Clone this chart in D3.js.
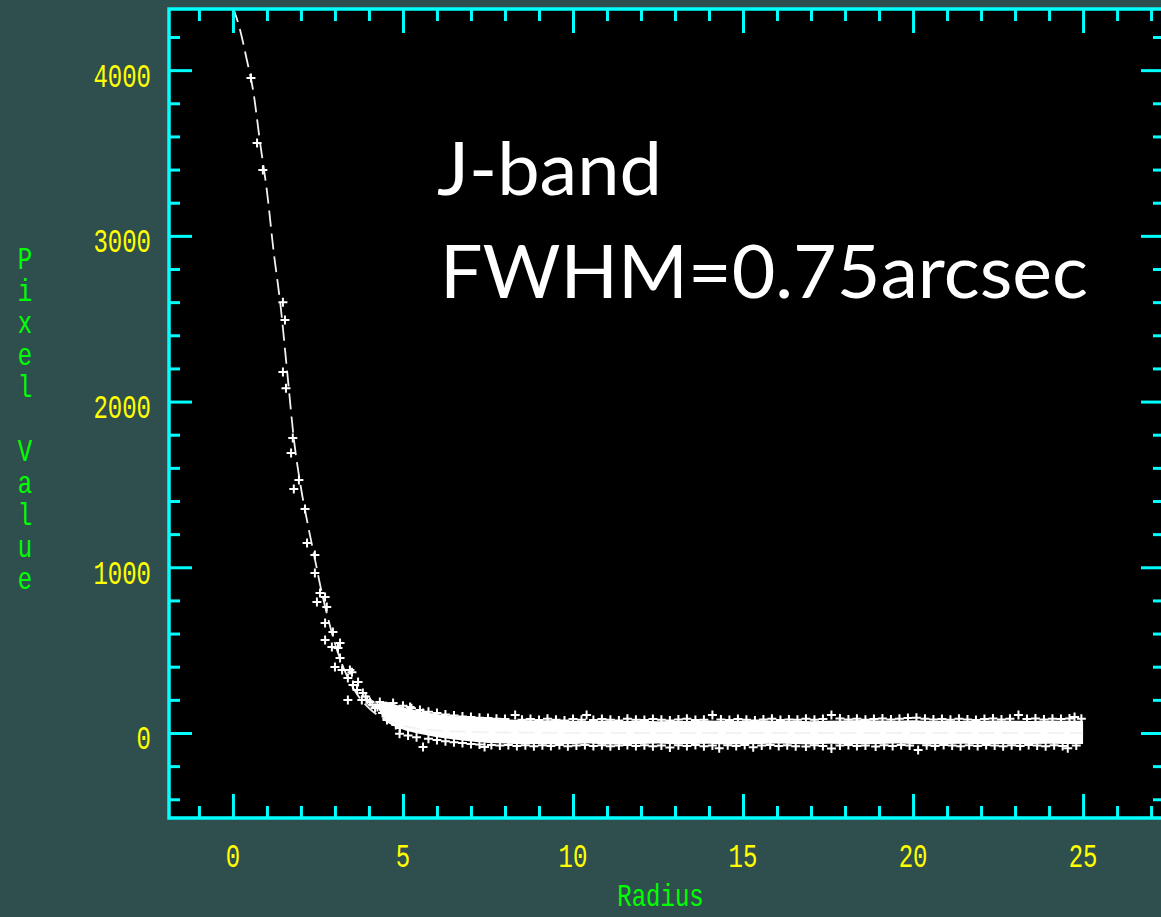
<!DOCTYPE html>
<html>
<head>
<meta charset="utf-8">
<script src="https://cdn.jsdelivr.net/npm/d3@7/dist/d3.min.js"></script>
<style>
  html, body { margin: 0; padding: 0; background: #2f4f4f; overflow: hidden; }
  svg { display: block; }
</style>
</head>
<body>
<svg id="chart" width="1161" height="917"></svg>
<script>
// Radial profile of a stellar image: pixel value versus radius (pixels)

// Axis ranges and tick labels
const xRange = [-1.88, 27.38];
const yRange = [-513, 4369];
const xTickLabels = [0, 5, 10, 15, 20, 25];
const yTickLabels = [0, 1000, 2000, 3000, 4000];

// Fitted profile (dashed curve)
const fitR = [0, 0.2, 0.4, 0.6, 0.8, 1.0, 1.2, 1.4, 1.6, 1.8, 2.0, 2.2, 2.4, 2.6, 2.8, 3.0, 3.3, 3.6, 4.0, 4.5, 5, 6, 8, 12, 25];
const fitV = [4380, 4250, 4070, 3870, 3560, 3270, 2900, 2580, 2170, 1760, 1480, 1260, 1060, 860, 690, 540, 370, 250, 150, 80, 45, 15, 3, 0, 0];

// Measured pixels in the core of the star
const coreR = [0.53, 0.71, 0.88, 1.47, 1.53, 1.47, 1.56, 1.76, 1.71, 1.94, 1.79, 2.12, 2.18, 2.41, 2.41, 2.56, 2.71, 2.47, 2.76,
  2.71, 2.94, 2.71, 2.91, 3.15, 3.09, 3.15, 3.0, 3.21, 3.44, 3.38, 3.53, 3.68, 3.65, 3.38, 3.82, 3.79, 4.03, 4.32, 4.18,
  4.62, 4.71, 4.53, 5.21, 4.91, 5.21, 5.59, 3.5, 3.95, 4.25, 4.71, 4.79, 3.9, 4.1, 4.4];
const coreV = [3952, 3560, 3397, 2600, 2492, 2178, 2081, 1780, 1689, 1526, 1472, 1351, 1146, 1074, 965, 845, 821, 790, 760,
  664, 609, 561, 519, 543, 513, 452, 398, 380, 380, 332, 290, 308, 259, 199, 241, 199, 187, 187, 151,
  157, 181, 78, 157, 30, 97, 121, 366, 199, 157, 90, 48, 220, 170, 120];

// Sky background: spread of the pixel values around zero
const bandR = [4.2, 4.5, 4.8, 5.1, 5.4, 5.7, 6.0, 6.5, 7.0, 7.5, 8.0, 8.5, 9.0, 9.5, 10, 10.5, 11, 11.5, 12, 12.5, 13, 13.5, 14,
  14.5, 15, 15.5, 16, 16.5, 17, 17.5, 18, 18.5, 19, 19.5, 20, 20.5, 21, 21.5, 22, 22.5, 23, 23.5, 24, 24.5, 25];
const bandHi = [170, 190, 170, 150, 136, 124, 114, 102, 94, 88, 82, 78, 76, 78, 74, 73, 76, 72, 74, 71, 73, 72, 76,
  72, 74, 77, 72, 74, 71, 74, 76, 78, 76, 74, 77, 73, 75, 72, 74, 76, 74, 72, 75, 74, 74];
const bandLo = [170, 66, 34, 14, -2, -14, -26, -40, -52, -60, -64, -68, -66, -69, -67, -64, -69, -70, -67, -64, -68, -66, -65,
  -70, -68, -66, -64, -67, -69, -65, -67, -68, -66, -64, -67, -69, -67, -65, -68, -66, -68, -67, -65, -66, -66];

// Individual sky pixels along the upper and lower edges of the spread
const edgeR = [5.0, 5.25, 5.5, 5.75, 6.0, 6.25, 6.5, 6.75, 7.0, 7.25, 7.5, 7.75, 8.0, 8.3, 8.5, 8.75, 9.0, 9.25, 9.5, 9.75,
  10.0, 10.25, 10.4, 10.6, 10.85, 11.1, 11.35, 11.6, 11.85, 12.1, 12.35, 12.6, 12.85, 13.1, 13.35, 13.6, 13.85, 14.1, 14.35,
  14.6, 14.85, 15.1, 15.35, 15.6, 15.85, 16.1, 16.35, 16.6, 16.85, 17.1, 17.35, 17.6, 17.85, 18.1, 18.35, 18.6, 18.85, 19.1,
  19.35, 19.6, 19.85, 20.1, 20.35, 20.6, 20.85, 21.1, 21.35, 21.6, 21.85, 22.1, 22.35, 22.6, 22.85, 23.1, 23.35, 23.6, 23.85,
  24.1, 24.35, 24.6, 24.75, 24.95,
  4.9, 5.15, 5.4, 5.59, 5.75, 6.0, 6.25, 6.5, 6.75, 7.0, 7.25, 7.4, 7.6, 7.85, 8.1, 8.35, 8.6, 8.85, 9.1, 9.35, 9.6, 9.85,
  10.1, 10.35, 10.6, 10.85, 11.1, 11.35, 11.6, 11.85, 12.1, 12.35, 12.6, 12.85, 13.1, 13.35, 13.6, 13.85, 14.1, 14.3, 14.55,
  14.8, 15.05, 15.3, 15.55, 15.8, 16.05, 16.3, 16.55, 16.85, 17.1, 17.35, 17.6, 17.85, 18.1, 18.35, 18.6, 18.9, 19.15, 19.4,
  19.65, 19.9, 20.15, 20.4, 20.65, 20.9, 21.15, 21.4, 21.65, 21.9, 22.15, 22.4, 22.65, 22.9, 23.15, 23.4, 23.65, 23.9, 24.15,
  24.4, 24.55, 24.8];
const edgeV = [165, 150, 138, 128, 120, 112, 106, 100, 96, 92, 90, 86, 84, 109, 80, 84, 78, 86, 80, 76,
  84, 80, 109, 78, 84, 80, 76, 86, 80, 78, 84, 80, 76, 82, 86, 78, 80, 109, 82,
  78, 84, 80, 76, 82, 86, 78, 82, 80, 86, 80, 84, 109, 88, 82, 86, 80, 84, 88,
  82, 86, 90, 92, 86, 82, 84, 80, 86, 82, 78, 84, 88, 82, 86, 109, 84, 88, 82,
  86, 84, 88, 97, 86,
  -5, -15, -25, -84, -35, -42, -50, -56, -60, -66, -70, -84, -72, -76, -72, -78, -74, -80, -74, -78, -72, -80,
  -76, -72, -78, -74, -80, -76, -72, -78, -74, -80, -76, -88, -74, -78, -72, -80, -76, -92, -74,
  -78, -72, -86, -76, -72, -78, -74, -80, -82, -74, -78, -94, -76, -72, -78, -76, -82, -74, -78,
  -72, -76, -102, -74, -78, -72, -76, -80, -74, -78, -72, -76, -80, -74, -78, -72, -76, -80, -74,
  -78, -92, -76];

// Layout
const plot = { left: 169, top: 9, right: 1164, bottom: 818 };
const axisColor = "#00ffff";
const labelColor = "#ffff00";
const titleColor = "#00ff00";

const svg = d3.select("#chart");

const x = d3.scaleLinear().domain(xRange).range([plot.left, plot.right]);
const y = d3.scaleLinear().domain(yRange).range([plot.bottom, plot.top]);

// plotting area
svg.append("rect")
  .attr("x", plot.left).attr("y", plot.top)
  .attr("width", plot.right - plot.left).attr("height", plot.bottom - plot.top)
  .attr("fill", "#000");

svg.append("clipPath").attr("id", "plotClip")
  .append("rect")
  .attr("x", plot.left).attr("y", plot.top)
  .attr("width", plot.right - plot.left).attr("height", plot.bottom - plot.top);

const data = svg.append("g").attr("clip-path", "url(#plotClip)");

// sky spread
const band = bandR.map((r, i) => ({ r, hi: bandHi[i], lo: bandLo[i] }));
data.append("path")
  .datum(band)
  .attr("fill", "#fff")
  .attr("d", d3.area().x(d => x(d.r)).y0(d => y(d.lo)).y1(d => y(d.hi)).curve(d3.curveLinear));

// fitted curve
const fit = fitR.map((r, i) => ({ r, v: fitV[i] }));
data.append("path")
  .datum(fit)
  .attr("fill", "none")
  .attr("stroke", "#f2f2f2")
  .attr("stroke-width", 1.8)
  .attr("stroke-dasharray", "16,7")
  .attr("d", d3.line().x(d => x(d.r)).y(d => y(d.v)).curve(d3.curveMonotoneX));

// plus-sign markers
const plusPath = "M-4.5,0H4.5M0,-4.5V4.5";
const pts = coreR.map((r, i) => ({ r, v: coreV[i] }))
  .concat(edgeR.map((r, i) => ({ r, v: edgeV[i] })));
data.append("g").selectAll("path")
  .data(pts)
  .join("path")
  .attr("transform", d => `translate(${x(d.r)},${y(d.v)})`)
  .attr("d", plusPath)
  .attr("stroke", "#fff")
  .attr("stroke-width", 2)
  .attr("fill", "none");

// axes: major and minor ticks on all four sides, pointing inwards
const xMinor = d3.range(-1, 28).filter(v => v % 5 !== 0);
const yMinor = d3.range(-400, 4370, 200).filter(v => v % 1000 !== 0);

function tickAxis(axisFn, scale, values, size, transform) {
  const g = svg.append("g")
    .attr("transform", transform)
    .call(axisFn(scale).tickValues(values).tickSize(size).tickSizeOuter(0).tickFormat(""));
  g.select(".domain").remove();
  g.selectAll(".tick line").attr("stroke", axisColor).attr("stroke-width", 3);
  return g;
}

tickAxis(d3.axisBottom, x, xTickLabels, -24, `translate(0,${plot.bottom})`);
tickAxis(d3.axisBottom, x, xMinor, -12, `translate(0,${plot.bottom})`);
tickAxis(d3.axisTop, x, xTickLabels, -24, `translate(0,${plot.top})`);
tickAxis(d3.axisTop, x, xMinor, -12, `translate(0,${plot.top})`);
tickAxis(d3.axisLeft, y, yTickLabels, -23, `translate(${plot.left},0)`);
tickAxis(d3.axisLeft, y, yMinor, -11, `translate(${plot.left},0)`);
tickAxis(d3.axisRight, y, yTickLabels, -23, `translate(${plot.right},0)`);
tickAxis(d3.axisRight, y, yMinor, -11, `translate(${plot.right},0)`);

// frame
svg.append("rect")
  .attr("x", plot.left).attr("y", plot.top)
  .attr("width", plot.right - plot.left).attr("height", plot.bottom - plot.top)
  .attr("fill", "none")
  .attr("stroke", axisColor)
  .attr("stroke-width", 3.5);

// tick labels in a tall narrow face
const labelFont = "'Liberation Mono', 'DejaVu Sans Mono', monospace";
function tallText(parent, txt, tx, ty, anchor, color, sy = 1.4) {
  return parent.append("text")
    .attr("transform", `translate(${tx},${ty}) scale(1,${sy})`)
    .attr("text-anchor", anchor)
    .attr("font-family", labelFont)
    .attr("font-size", 24)
    .attr("fill", color)
    .text(txt);
}

const labels = svg.append("g");
yTickLabels.forEach(v => tallText(labels, String(v), 151, y(v) + 16.5, "end", labelColor));
xTickLabels.forEach(v => tallText(labels, String(v), x(v), 867, "middle", labelColor));

// axis titles
tallText(labels, "Radius", (plot.left + plot.right) / 2 - 6, 906, "middle", titleColor, 1.3);

// vertical title, one upright letter per row
labels.append("text")
  .attr("transform", "translate(25,243) scale(1,1.3)")
  .attr("font-family", labelFont)
  .attr("font-size", 24)
  .attr("fill", titleColor)
  .attr("letter-spacing", -2.1)
  .style("writing-mode", "vertical-rl")
  .style("text-orientation", "upright")
  .text("Pixel Value");

// annotation
const note = svg.append("g")
  .attr("font-family", "Lato, 'Open Sans', sans-serif")
  .attr("font-size", 74)
  .attr("fill", "#fff");
note.append("text").attr("x", 437).attr("y", 195)
  .attr("textLength", 225).attr("lengthAdjust", "spacingAndGlyphs")
  .text("J-band");
note.append("text").attr("x", 440).attr("y", 298)
  .attr("textLength", 648).attr("lengthAdjust", "spacingAndGlyphs")
  .text("FWHM=0.75arcsec");
</script>
</body>
</html>
